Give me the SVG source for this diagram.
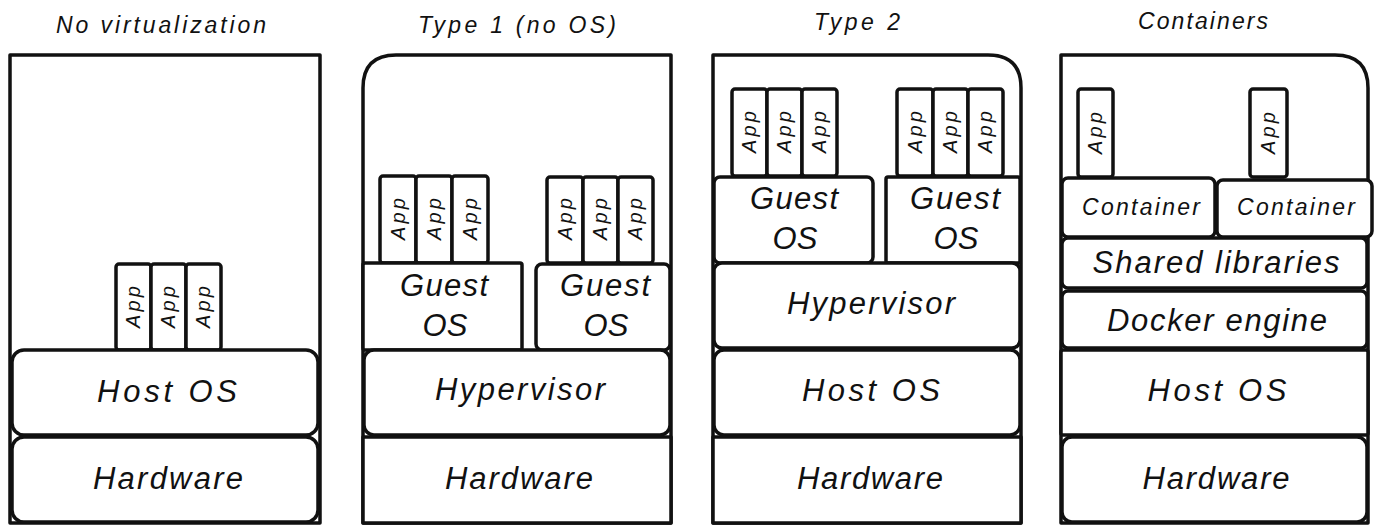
<svg xmlns="http://www.w3.org/2000/svg" width="1375" height="526" viewBox="0 0 1375 526">
  <style>
    .box { fill: #ffffff; stroke: #111111; stroke-width: 3.5; stroke-linejoin: round; }
    .title { font-family: "Liberation Sans", Arial, sans-serif; font-style: italic; font-size: 23px; fill: #111111; text-anchor: middle; }
    .lbl { font-family: "Liberation Sans", Arial, sans-serif; font-style: italic; font-size: 31px; fill: #111111; text-anchor: middle; }
    .mid { font-family: "Liberation Sans", Arial, sans-serif; font-style: italic; font-size: 23px; fill: #111111; text-anchor: middle; }
    .app { font-family: "Liberation Sans", Arial, sans-serif; font-style: italic; font-size: 20px; fill: #111111; text-anchor: middle; }
  </style>
  <rect width="1375" height="526" fill="#ffffff"/>

  <!-- column titles -->
  <g id="titles">
    <text class="title" x="161" y="33" textLength="210" lengthAdjust="spacing">No virtualization</text>
    <text class="title" x="517" y="33" textLength="198" lengthAdjust="spacing">Type 1 (no OS)</text>
    <text class="title" x="857" y="30" textLength="86" lengthAdjust="spacing">Type 2</text>
    <text class="title" x="1203" y="29" textLength="130" lengthAdjust="spacing">Containers</text>
  </g>

  <!-- column 1: no virtualization -->
  <g id="col-novirt">
    <rect class="box" x="10" y="55" width="310" height="468"/>
    <g id="nv-apps">
      <rect class="box" x="116" y="264" width="35" height="86" rx="3"/>
      <rect class="box" x="151" y="264" width="35" height="86" rx="3"/>
      <rect class="box" x="186" y="264" width="35" height="86" rx="3"/>
      <text class="app" transform="translate(140,307) rotate(-90)" textLength="42" lengthAdjust="spacing">App</text>
      <text class="app" transform="translate(175,307) rotate(-90)" textLength="42" lengthAdjust="spacing">App</text>
      <text class="app" transform="translate(210,307) rotate(-90)" textLength="42" lengthAdjust="spacing">App</text>
    </g>
    <g id="nv-hostos">
      <rect class="box" x="12" y="350" width="306" height="85" rx="12"/>
      <text class="lbl" x="167" y="402" textLength="140" lengthAdjust="spacing">Host OS</text>
    </g>
    <g id="nv-hardware">
      <rect class="box" x="12" y="437" width="306" height="85" rx="12"/>
      <text class="lbl" x="168" y="489" textLength="150" lengthAdjust="spacing">Hardware</text>
    </g>
  </g>

  <!-- column 2: type 1 hypervisor -->
  <g id="col-type1">
    <path class="box" d="M363,523 L363,88 Q363,55 396,55 L671,55 L671,523 Z"/>
    <g id="t1-apps-a">
      <rect class="box" x="380" y="176" width="36" height="87" rx="3"/>
      <rect class="box" x="416" y="176" width="36" height="87" rx="3"/>
      <rect class="box" x="452" y="176" width="36" height="87" rx="3"/>
      <text class="app" transform="translate(405,219) rotate(-90)" textLength="42" lengthAdjust="spacing">App</text>
      <text class="app" transform="translate(441,219) rotate(-90)" textLength="42" lengthAdjust="spacing">App</text>
      <text class="app" transform="translate(477,219) rotate(-90)" textLength="42" lengthAdjust="spacing">App</text>
    </g>
    <g id="t1-apps-b">
      <rect class="box" x="547" y="177" width="36" height="86" rx="3"/>
      <rect class="box" x="583" y="177" width="35" height="86" rx="3"/>
      <rect class="box" x="618" y="177" width="35" height="86" rx="3"/>
      <text class="app" transform="translate(572,219) rotate(-90)" textLength="42" lengthAdjust="spacing">App</text>
      <text class="app" transform="translate(607,219) rotate(-90)" textLength="42" lengthAdjust="spacing">App</text>
      <text class="app" transform="translate(642,219) rotate(-90)" textLength="42" lengthAdjust="spacing">App</text>
    </g>
    <g id="t1-guest-a">
      <rect class="box" x="363" y="263" width="159" height="87" rx="2"/>
      <text class="lbl" x="444" y="296" textLength="88" lengthAdjust="spacing">Guest</text>
      <text class="lbl" x="445" y="336">OS</text>
    </g>
    <g id="t1-guest-b">
      <rect class="box" x="536" y="264" width="134" height="86" rx="6"/>
      <text class="lbl" x="605" y="296" textLength="90" lengthAdjust="spacing">Guest</text>
      <text class="lbl" x="606" y="336">OS</text>
    </g>
    <g id="t1-hypervisor">
      <rect class="box" x="364" y="350" width="306" height="85" rx="10"/>
      <text class="lbl" x="520" y="400" textLength="170" lengthAdjust="spacing">Hypervisor</text>
    </g>
    <g id="t1-hardware">
      <rect class="box" x="363" y="437" width="308" height="86"/>
      <text class="lbl" x="519" y="489" textLength="148" lengthAdjust="spacing">Hardware</text>
    </g>
  </g>

  <!-- column 3: type 2 hypervisor -->
  <g id="col-type2">
    <path class="box" d="M713,523 L713,55 L988,55 Q1021,55 1021,88 L1021,523 Z"/>
    <g id="t2-apps-a">
      <rect class="box" x="732" y="89" width="35" height="87" rx="3"/>
      <rect class="box" x="767" y="89" width="35" height="87" rx="3"/>
      <rect class="box" x="802" y="89" width="35" height="87" rx="3"/>
      <text class="app" transform="translate(756,132) rotate(-90)" textLength="42" lengthAdjust="spacing">App</text>
      <text class="app" transform="translate(791,132) rotate(-90)" textLength="42" lengthAdjust="spacing">App</text>
      <text class="app" transform="translate(826,132) rotate(-90)" textLength="42" lengthAdjust="spacing">App</text>
    </g>
    <g id="t2-apps-b">
      <rect class="box" x="897" y="89" width="36" height="87" rx="3"/>
      <rect class="box" x="933" y="89" width="35" height="87" rx="3"/>
      <rect class="box" x="968" y="89" width="35" height="87" rx="3"/>
      <text class="app" transform="translate(922,132) rotate(-90)" textLength="42" lengthAdjust="spacing">App</text>
      <text class="app" transform="translate(957,132) rotate(-90)" textLength="42" lengthAdjust="spacing">App</text>
      <text class="app" transform="translate(992,132) rotate(-90)" textLength="42" lengthAdjust="spacing">App</text>
    </g>
    <g id="t2-guest-a">
      <rect class="box" x="714" y="177" width="159" height="86" rx="6"/>
      <text class="lbl" x="794" y="209" textLength="88" lengthAdjust="spacing">Guest</text>
      <text class="lbl" x="795" y="249">OS</text>
    </g>
    <g id="t2-guest-b">
      <rect class="box" x="886" y="177" width="134" height="86" rx="2"/>
      <text class="lbl" x="955" y="209" textLength="90" lengthAdjust="spacing">Guest</text>
      <text class="lbl" x="956" y="249">OS</text>
    </g>
    <g id="t2-hypervisor">
      <rect class="box" x="714" y="263" width="306" height="85" rx="8"/>
      <text class="lbl" x="871" y="314" textLength="168" lengthAdjust="spacing">Hypervisor</text>
    </g>
    <g id="t2-hostos">
      <rect class="box" x="714" y="350" width="306" height="85" rx="10"/>
      <text class="lbl" x="871" y="401" textLength="138" lengthAdjust="spacing">Host OS</text>
    </g>
    <g id="t2-hardware">
      <rect class="box" x="713" y="437" width="308" height="86"/>
      <text class="lbl" x="870" y="489" textLength="146" lengthAdjust="spacing">Hardware</text>
    </g>
  </g>

  <!-- column 4: containers -->
  <g id="col-containers">
    <path class="box" d="M1061,523 L1061,55 L1335,55 Q1368,55 1368,88 L1368,523 Z"/>
    <g id="ct-app-a">
      <rect class="box" x="1078" y="89" width="35" height="88" rx="3"/>
      <text class="app" transform="translate(1102,133) rotate(-90)" textLength="42" lengthAdjust="spacing">App</text>
    </g>
    <g id="ct-app-b">
      <rect class="box" x="1250" y="89" width="37" height="88" rx="3"/>
      <text class="app" transform="translate(1275,133) rotate(-90)" textLength="42" lengthAdjust="spacing">App</text>
    </g>
    <g id="ct-container-a">
      <rect class="box" x="1062" y="178" width="153" height="59" rx="6"/>
      <text class="mid" x="1141" y="215" textLength="118" lengthAdjust="spacing">Container</text>
    </g>
    <g id="ct-container-b">
      <rect class="box" x="1217" y="180" width="155" height="57" rx="6"/>
      <text class="mid" x="1296" y="215" textLength="118" lengthAdjust="spacing">Container</text>
    </g>
    <g id="ct-shared">
      <rect class="box" x="1062" y="238" width="305" height="50" rx="6"/>
      <text class="lbl" x="1216" y="273" textLength="247" lengthAdjust="spacing">Shared libraries</text>
    </g>
    <g id="ct-docker">
      <rect class="box" x="1062" y="291" width="305" height="57" rx="6"/>
      <text class="lbl" x="1217" y="331" textLength="220" lengthAdjust="spacing">Docker engine</text>
    </g>
    <g id="ct-hostos">
      <rect class="box" x="1061" y="350" width="307" height="85" rx="2"/>
      <text class="lbl" x="1217" y="401" textLength="139" lengthAdjust="spacing">Host OS</text>
    </g>
    <g id="ct-hardware">
      <rect class="box" x="1062" y="437" width="305" height="85" rx="10"/>
      <text class="lbl" x="1216" y="489" textLength="147" lengthAdjust="spacing">Hardware</text>
    </g>
  </g>

  <!-- no connectors in this drawing -->
  <g id="connectors"/>
</svg>
